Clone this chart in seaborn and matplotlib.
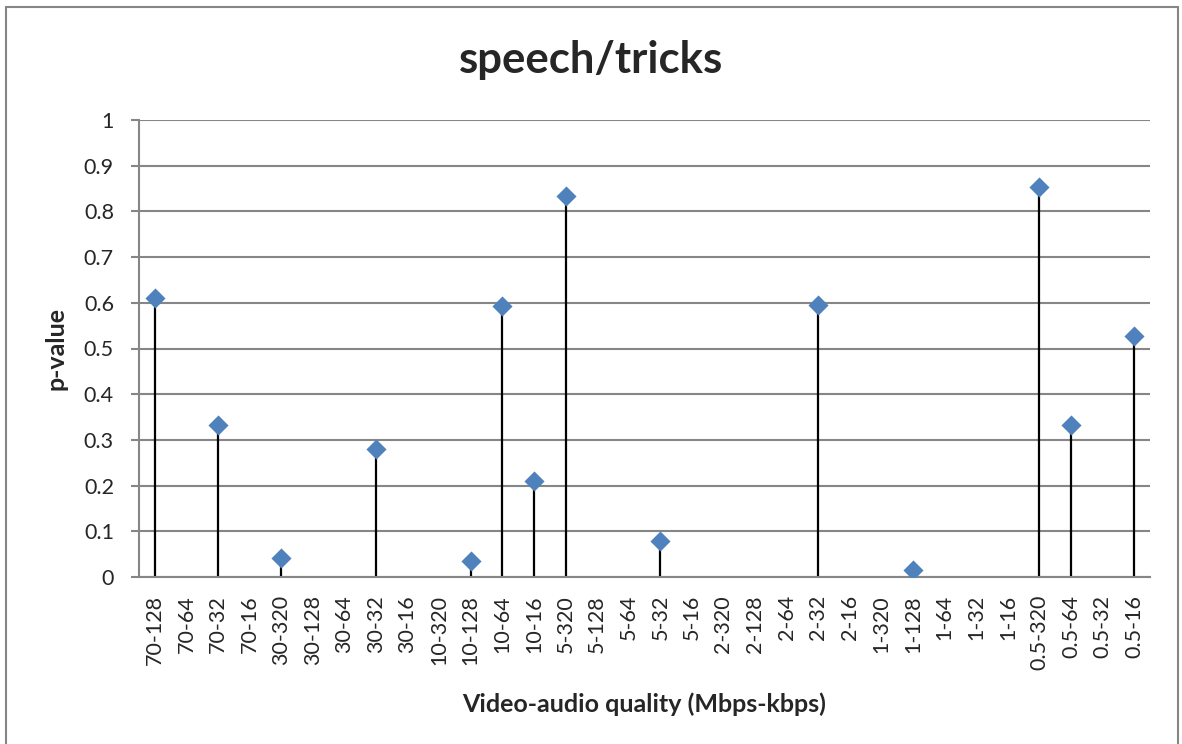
import numpy as np
import pandas as pd
import matplotlib
matplotlib.use("Agg")
import matplotlib.pyplot as plt
import seaborn as sns
from matplotlib.patches import Rectangle

# data (NaN = no point shown)
categories = ["70-128", "70-64", "70-32", "70-16",
              "30-320", "30-128", "30-64", "30-32", "30-16",
              "10-320", "10-128", "10-64", "10-16",
              "5-320", "5-128", "5-64", "5-32", "5-16",
              "2-320", "2-128", "2-64", "2-32", "2-16",
              "1-320", "1-128", "1-64", "1-32", "1-16",
              "0.5-320", "0.5-64", "0.5-32", "0.5-16"]
p_values = [0.610, np.nan, 0.333, np.nan,
            0.042, np.nan, np.nan, 0.280, np.nan,
            np.nan, 0.035, 0.592, 0.210,
            0.834, np.nan, np.nan, 0.079, np.nan,
            np.nan, np.nan, np.nan, 0.596, np.nan,
            np.nan, 0.015, np.nan, np.nan, np.nan,
            0.854, 0.333, np.nan, 0.528]
y_ticks = [0, 0.1, 0.2, 0.3, 0.4, 0.5, 0.6, 0.7, 0.8, 0.9, 1]

sns.set_style("white")
plt.rcParams["font.family"] = ["Lato", "DejaVu Sans"]

grey = "#868686"
blue = "#4F81BD"

df = pd.DataFrame({"pos": np.arange(len(categories)), "quality": categories, "p": p_values})
pts = df.dropna()

fig = plt.figure(figsize=(11.82, 7.44), dpi=100)
ax = fig.add_axes([139 / 1182, 1 - 577 / 744, (1150 - 139) / 1182, (577 - 120) / 744])

# drop lines from zero up to each point
ax.vlines(pts["pos"], 0, pts["p"], color="black", linewidth=1.6, zorder=2)
sns.scatterplot(data=pts, x="pos", y="p", marker="D", s=105, color=blue,
                edgecolor=blue, linewidth=0, ax=ax, zorder=3, legend=False)

ax.set_xlim(-0.5, len(categories) - 0.5)
ax.set_ylim(0, 1)
ax.set_yticks(y_ticks)
ax.set_yticklabels([f"{t:g}" for t in y_ticks], fontsize=15.5)
ax.set_xticks(df["pos"])
ax.set_xticklabels(categories, rotation=90, fontsize=15.5)

ax.yaxis.grid(True, color=grey, linewidth=1.5)
ax.set_axisbelow(True)
ax.tick_params(axis="y", length=6, width=1.5, color=grey, pad=12, left=True)
ax.tick_params(axis="x", length=0, pad=13)
for side in ["top", "right"]:
    ax.spines[side].set_visible(False)
for side in ["left", "bottom"]:
    ax.spines[side].set_color(grey)
    ax.spines[side].set_linewidth(1.5)

ax.set_xlabel("Video-audio quality (Mbps-kbps)", fontsize=18, fontweight="bold", labelpad=16)
ax.set_ylabel("p-value", fontsize=18, fontweight="bold", labelpad=12)
fig.text(0.5, 1 - 60 / 744, "speech/tricks", fontsize=31.5,
         fontweight="bold", ha="center", va="center")

# chart frame
fig.add_artist(Rectangle((6 / 1182, -0.05), (1178 - 6) / 1182, 1.05 - 7 / 744,
                         transform=fig.transFigure, fill=False, edgecolor=grey, linewidth=1.5))

fig.savefig("out.png", dpi=100)
